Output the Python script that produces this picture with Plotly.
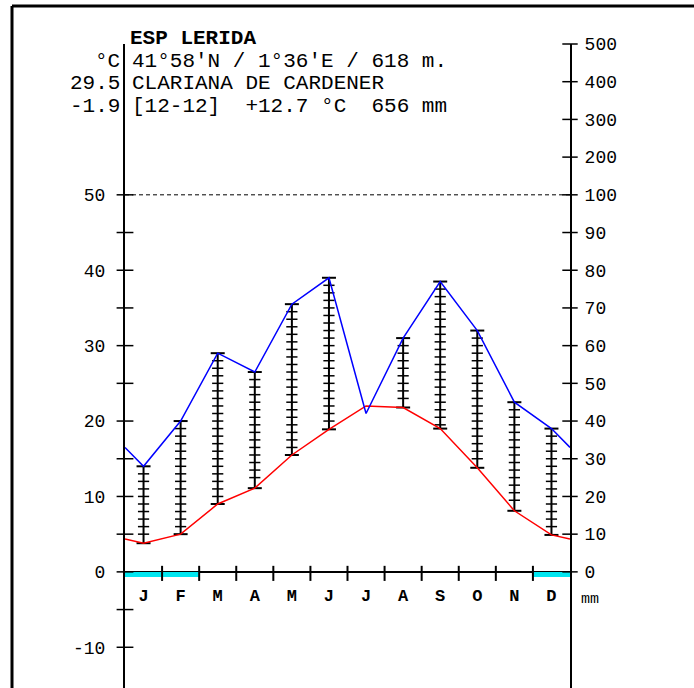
import plotly.graph_objects as go

# ---------------- data ----------------
months = ["J", "F", "M", "A", "M", "J", "J", "A", "S", "O", "N", "D"]
temp = [3.8, 5.0, 9.0, 11.1, 15.5, 18.9, 22.0, 21.8, 19.0, 13.8, 8.1, 4.9]   # °C
precip = [28, 40, 58, 53, 71, 78, 42, 62, 77, 64, 45, 38]                    # mm
frost = [1, 1, 0, 0, 0, 0, 0, 0, 0, 0, 0, 1]                                  # months with abs. min < 0
temp_labels = [-10, 0, 10, 20, 30, 40, 50]
temp_minor = [-10, -5, 0, 5, 10, 15, 20, 25, 30, 35, 40, 45, 50]
precip_labels = [0, 10, 20, 30, 40, 50, 60, 70, 80, 90, 100, 200, 300, 400, 500]
station = "ESP LERIDA"
coords = "41°58'N / 1°36'E / 618 m."
place = "CLARIANA DE CARDENER"
summary = "[12-12]\u00a0\u00a0+12.7\u00a0°C\u00a0\u00a0656\u00a0mm"
left_head = ["°C", "29.5", "-1.9"]

# ---------------- helpers ----------------
W, H = 694, 688
L, R, T, B = 125, 570, 44, 688
YMIN, YMAX = -15.4, 70.0
FONT = "Liberation Mono"


def p2t(p):
    return p / 2.0 if p <= 100 else 50 + (p - 100) / 20.0


def px(x, y):
    return (x - L) / (R - L), (B - y) / (B - T)


n = len(months)
xc = [i + 0.5 for i in range(n)]
pt = [p2t(p) for p in precip]

# wrap-around ends
t_edge = (temp[0] + temp[-1]) / 2
p_edge = (pt[0] + pt[-1]) / 2
x_line = [0] + xc + [n]
t_line = [t_edge] + temp + [t_edge]
p_line = [p_edge] + pt + [p_edge]

fig = go.Figure()

# frost bars
fig.add_trace(go.Bar(x=xc, y=[-0.7 * f for f in frost], base=0, width=1,
                     marker=dict(color="#00E6F0", line=dict(width=0)),
                     showlegend=False, hoverinfo="skip"))

# humid ladders
lx, ly, tx, ty, cx, cy = [], [], [], [], [], []
for i in range(n):
    lo, hi = temp[i], pt[i]
    if hi > lo:
        lx += [xc[i], xc[i], None]
        ly += [lo, hi, None]
        cx += [xc[i], xc[i]]
        cy += [lo, hi]
        k = hi - 1
        while k > lo + 0.4:
            tx.append(xc[i])
            ty.append(k)
            k -= 1
fig.add_trace(go.Scatter(x=lx, y=ly, mode="lines", line=dict(color="black", width=2),
                         showlegend=False, hoverinfo="skip"))
fig.add_trace(go.Scatter(x=tx, y=ty, mode="markers",
                         marker=dict(symbol="line-ew", size=8, line=dict(color="black", width=1.5)),
                         showlegend=False, hoverinfo="skip"))
fig.add_trace(go.Scatter(x=cx, y=cy, mode="markers",
                         marker=dict(symbol="line-ew", size=10, line=dict(color="black", width=2)),
                         showlegend=False, hoverinfo="skip"))

# curves
fig.add_trace(go.Scatter(x=x_line, y=t_line, mode="lines", line=dict(color="red", width=1.5),
                         showlegend=False, hoverinfo="skip"))
fig.add_trace(go.Scatter(x=x_line, y=p_line, mode="lines", line=dict(color="blue", width=1.5),
                         showlegend=False, hoverinfo="skip"))

# month ticks on zero line
mx, my = [], []
for k in range(1, n):
    mx += [k, k, None]
    my += [0.8, -1.2, None]
fig.add_trace(go.Scatter(x=mx, y=my, mode="lines", line=dict(color="black", width=2),
                         showlegend=False, hoverinfo="skip", cliponaxis=False))

# axis tick marks (crossing)
fig.add_trace(go.Scatter(x=[0] * len(temp_minor), y=temp_minor, mode="markers",
                         marker=dict(symbol="line-ew", size=12, line=dict(color="black", width=1.5)),
                         showlegend=False, hoverinfo="skip", cliponaxis=False))
fig.add_trace(go.Scatter(x=[n] * len(precip_labels), y=[p2t(p) for p in precip_labels], mode="markers",
                         marker=dict(symbol="line-ew", size=11, line=dict(color="black", width=1.5)),
                         showlegend=False, hoverinfo="skip", cliponaxis=False))

# month labels
fig.add_trace(go.Scatter(x=xc, y=[-3.3] * n, mode="text", text=months,
                         textfont=dict(family=FONT, size=17, color="black", weight="bold"),
                         showlegend=False, hoverinfo="skip", cliponaxis=False))

# dashed 100 mm line
fig.add_shape(type="line", x0=0, x1=n, y0=p2t(100), y1=p2t(100),
              line=dict(color="black", width=1, dash="4px,3px"))

# frame
fx0, fy0 = px(12, 6)
fx1, fy1 = px(W + 5, B + 5)
fig.add_shape(type="line", xref="paper", yref="paper", x0=fx0, x1=fx1, y0=fy0, y1=fy0,
              line=dict(color="black", width=3))
fig.add_shape(type="line", xref="paper", yref="paper", x0=fx0, x1=fx0, y0=fy0, y1=fy1,
              line=dict(color="black", width=3))

# header text
ann = []
ax, ay = px(128, 39)
ann.append(dict(x=ax, y=ay, text="<b>" + station + "</b>", xanchor="left"))
for j, (lt, rt) in enumerate(zip(left_head, [coords, place, summary])):
    yy = 61 + j * 22.5
    ax, ay = px(122, yy)
    ann.append(dict(x=ax, y=ay, text=lt, xanchor="right"))
    ax, ay = px(130, yy)
    ann.append(dict(x=ax, y=ay, text=rt, xanchor="left"))
ax, ay = px(579, 599)
ann.append(dict(x=ax, y=ay, text="mm", xanchor="left", font=dict(family=FONT, size=15, color="black")))
for a in ann:
    a.update(xref="paper", yref="paper", yanchor="middle", showarrow=False)
    a.setdefault("font", dict(family=FONT, size=21, color="black"))
    fig.add_annotation(**a)

fig.update_layout(
    width=W, height=H, template="none",
    margin=dict(l=L, r=W - R, t=T, b=H - B, pad=0),
    paper_bgcolor="white", plot_bgcolor="white",
    showlegend=False, bargap=0,
    xaxis=dict(range=[0, n], showgrid=False, showticklabels=False, zeroline=False,
               showline=False, ticks="", fixedrange=True),
    yaxis=dict(range=[YMIN, YMAX], showgrid=False, zeroline=True, zerolinecolor="black",
               zerolinewidth=2, showline=True, linecolor="black", linewidth=2, ticks="",
               tickvals=temp_labels, ticktext=[str(v) for v in temp_labels],
               ticklabelstandoff=14, tickfont=dict(family=FONT, size=18, color="black"),
               automargin=False),
    yaxis2=dict(range=[YMIN, YMAX], overlaying="y", side="right", showgrid=False,
                zeroline=False, showline=True, linecolor="black", linewidth=2, ticks="",
                tickvals=[p2t(p) for p in precip_labels], ticktext=[str(p) for p in precip_labels],
                ticklabelstandoff=9, tickfont=dict(family=FONT, size=18, color="black"),
                automargin=False),
)
# dummy trace so yaxis2 is shown
fig.add_trace(go.Scatter(x=[None], y=[None], yaxis="y2", showlegend=False, hoverinfo="skip"))

fig.write_html("out.html")
